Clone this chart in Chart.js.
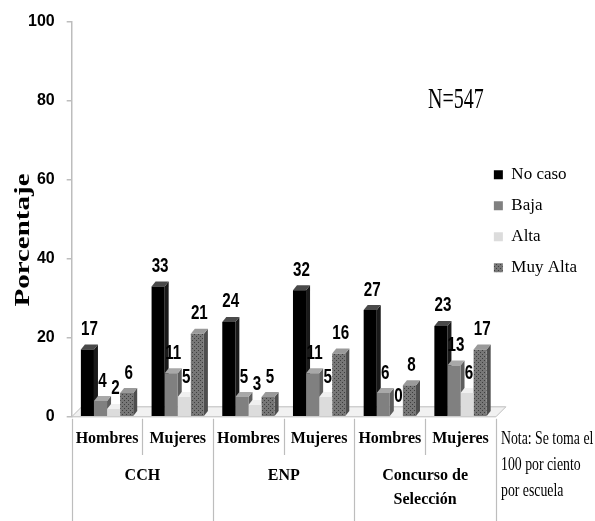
<!DOCTYPE html>
<html>
<head>
<meta charset="utf-8">
<script src="https://cdn.jsdelivr.net/npm/chart.js@4/dist/chart.umd.min.js"></script>
<style>
html, body { margin: 0; padding: 0; background: #fff; }
</style>
</head>
<body>
<canvas id="myChart" width="595" height="521"></canvas>
<script>
// datos del grafico
var categorias = ["Hombres", "Mujeres", "Hombres", "Mujeres", "Hombres", "Mujeres"];
var escuelas = ["CCH", "ENP", ["Concurso de", "Selección"]];
var series = ["No caso", "Baja", "Alta", "Muy Alta"];
var noCaso = [17, 33, 24, 32, 27, 23];
var baja = [4, 11, 5, 11, 6, 13];
var alta = [2, 5, 3, 5, 0, 6];
var muyAlta = [6, 21, 5, 16, 8, 17];
var yTicks = [0, 20, 40, 60, 80, 100];
var notaLineas = ["Nota: Se toma el", "100 por ciento", "por escuela"];
var nTexto = "N=547";

var serif = "'Liberation Serif', 'Times New Roman', serif";
var sans = "'Liberation Sans', Arial, sans-serif";

var ctx = document.getElementById('myChart').getContext('2d');

// textura punteada para "Muy Alta"
function puntos() {
    var c = document.createElement('canvas');
    c.width = 4; c.height = 4;
    var g = c.getContext('2d');
    g.fillStyle = '#777777';
    g.fillRect(0, 0, 4, 4);
    g.fillStyle = '#3e3e3e';
    g.fillRect(0, 0, 1, 1);
    g.fillRect(2, 2, 1, 1);
    return ctx.createPattern(c, 'repeat');
}

var frente = ['#000000', '#808080', '#dcdcdc', puntos()];
var arriba = ['#4a4a4a', '#a8a8a8', '#f0f0f0', '#9a9a9a'];
var lado = ['#1a1a1a', '#5e5e5e', '#bdbdbd', '#4e4e4e'];
var DX = 4, DY = 5;

// piso, caras 3D, etiquetas y textos sueltos
var efecto3d = {
    id: 'efecto3d',
    afterLayout: function (chart) {
        var lg = chart.legend;
        lg.left -= 16; lg.right -= 16;
        lg.top += 2; lg.bottom += 2;
    },
    beforeDatasetsDraw: function (chart) {
        var a = chart.chartArea, c = chart.ctx;
        c.save();
        c.beginPath();
        c.moveTo(a.left, a.bottom);
        c.lineTo(a.right, a.bottom);
        c.lineTo(a.right + 10, a.bottom - 10);
        c.lineTo(a.left + 10, a.bottom - 10);
        c.closePath();
        c.fillStyle = '#f1f1f1';
        c.fill();
        c.strokeStyle = '#bdbdbd';
        c.lineWidth = 1;
        c.stroke();
        for (var d = 0; d < chart.data.datasets.length; d++) {
            var meta = chart.getDatasetMeta(d);
            meta.data.forEach(function (el) {
                var l = el.x - el.width / 2, r = el.x + el.width / 2;
                c.fillStyle = lado[d];
                c.beginPath();
                c.moveTo(r, el.y);
                c.lineTo(r + DX, el.y - DY);
                c.lineTo(r + DX, el.base - DY);
                c.lineTo(r, el.base);
                c.closePath();
                c.fill();
                c.fillStyle = arriba[d];
                c.beginPath();
                c.moveTo(l, el.y);
                c.lineTo(l + DX, el.y - DY);
                c.lineTo(r + DX, el.y - DY);
                c.lineTo(r, el.y);
                c.closePath();
                c.fill();
            });
        }
        c.restore();
    },
    afterDatasetsDraw: function (chart) {
        var c = chart.ctx;
        chart.data.datasets.forEach(function (ds, d) {
            chart.getDatasetMeta(d).data.forEach(function (el, i) {
                c.save();
                c.translate(el.x + DX / 2, el.y - DY - 5);
                c.scale(0.8, 1.05);
                c.fillStyle = '#000';
                c.font = 'bold 19px ' + sans;
                c.textAlign = 'center';
                c.textBaseline = 'bottom';
                c.fillText(String(ds.data[i]), 0, 0);
                c.restore();
            });
        });
    },
    afterDraw: function (chart) {
        var c = chart.ctx, a = chart.chartArea;
        var xs = chart.scales.x;
        var paso = xs.getPixelForValue(1) - xs.getPixelForValue(0);
        var inicio = xs.getPixelForValue(0) - paso / 2;
        c.save();
        c.strokeStyle = '#bdbdbd';
        c.lineWidth = 1.2;
        for (var i = 0; i <= categorias.length; i++) {
            var x = Math.round(inicio + i * paso) + 0.5;
            c.beginPath();
            c.moveTo(x, a.bottom + 2);
            c.lineTo(x, i % 2 === 0 ? 521 : 455);
            c.stroke();
        }
        // titulo del eje y
        c.fillStyle = '#000';
        c.translate(24, 240);
        c.rotate(-Math.PI / 2);
        c.scale(1.45, 1);
        c.font = 'bold 20px ' + serif;
        c.textAlign = 'center';
        c.textBaseline = 'middle';
        c.fillText('Porcentaje', 0, 0);
        c.restore();

        c.save();
        c.fillStyle = '#000';
        c.textAlign = 'left';
        c.textBaseline = 'alphabetic';
        c.translate(428, 108);
        c.scale(1, 1.45);
        c.font = '20px ' + serif;
        c.fillText(nTexto, 0, 0);
        c.restore();

        notaLineas.forEach(function (t, k) {
            c.save();
            c.fillStyle = '#000';
            c.translate(501, 439 + k * 26);
            c.scale(0.92, 1.25);
            c.font = '15px ' + serif;
            c.textAlign = 'left';
            c.textBaseline = 'middle';
            c.fillText(t, 0, 0);
            c.restore();
        });
    }
};

var myChart = new Chart(ctx, {
    type: 'bar',
    data: {
        labels: categorias,
        datasets: [
            { label: series[0], data: noCaso, backgroundColor: frente[0] },
            { label: series[1], data: baja, backgroundColor: frente[1] },
            { label: series[2], data: alta, backgroundColor: frente[2] },
            { label: series[3], data: muyAlta, backgroundColor: frente[3] }
        ]
    },
    options: {
        responsive: false,
        animation: false,
        layout: { padding: { left: 16, top: 16, right: -8, bottom: 5 } },
        categoryPercentage: 0.74,
        barPercentage: 1.0,
        plugins: {
            tooltip: { enabled: false },
            legend: {
                position: 'right',
                fullSize: false,
                labels: {
                    boxWidth: 9,
                    boxHeight: 9,
                    padding: 14,
                    color: '#000',
                    font: { family: serif, size: 17 }
                }
            }
        },
        scales: {
            x: {
                grid: { display: false, drawTicks: false },
                border: { display: false },
                ticks: {
                    padding: 12, color: '#000', autoSkip: false, maxRotation: 0,
                    font: { family: serif, size: 16, weight: 'bold' }
                }
            },
            x2: {
                type: 'category',
                labels: escuelas,
                position: 'bottom',
                offset: true,
                grid: { display: false, drawTicks: false },
                border: { display: false },
                ticks: {
                    padding: 4, color: '#000', autoSkip: false, maxRotation: 0,
                    font: { family: serif, size: 16, weight: 'bold', lineHeight: 1.5 }
                }
            },
            y: {
                min: 0,
                max: 100,
                afterBuildTicks: function (s) {
                    s.ticks = yTicks.map(function (v) { return { value: v }; });
                },
                grid: { drawOnChartArea: false, tickLength: 5, color: '#bdbdbd', lineWidth: 1.5 },
                border: { color: '#bdbdbd', width: 1.5 },
                ticks: {
                    padding: 12, color: '#000',
                    font: { family: sans, size: 16, weight: 'bold' }
                }
            }
        }
    },
    plugins: [efecto3d]
});
</script>
</body>
</html>
